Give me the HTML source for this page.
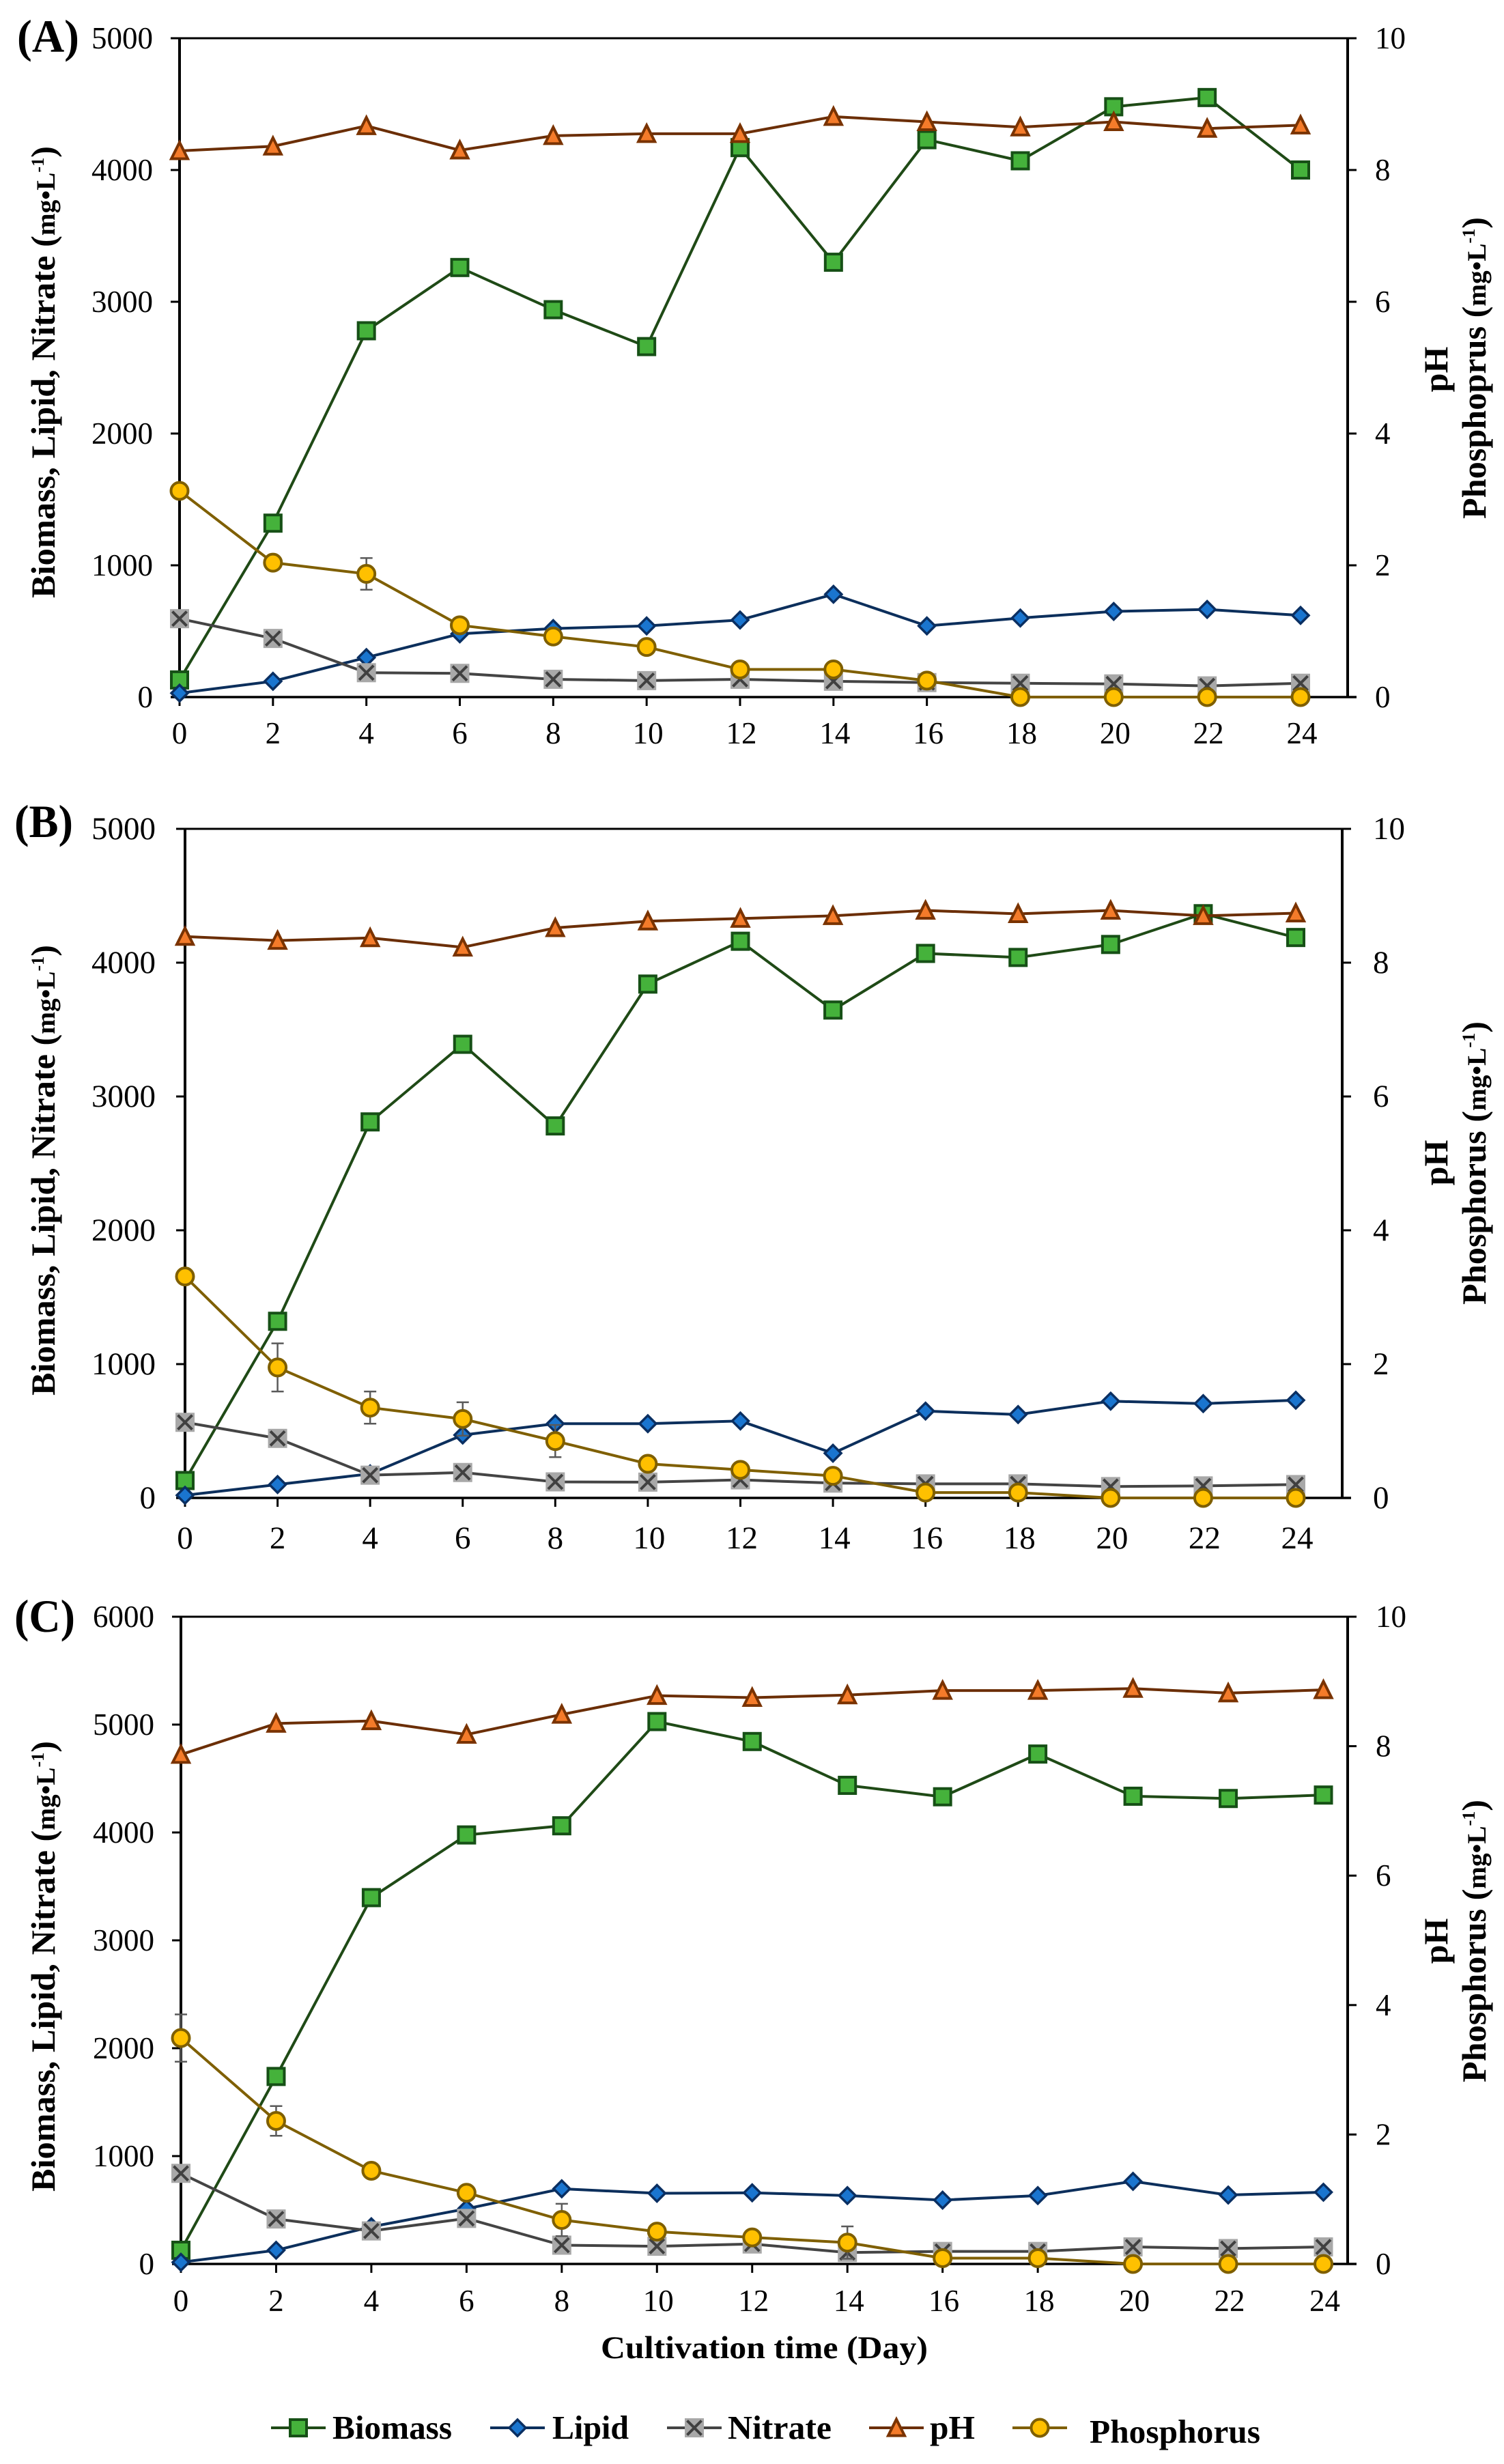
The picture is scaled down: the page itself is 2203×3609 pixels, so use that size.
<!DOCTYPE html>
<html lang="en">
<head>
<meta charset="utf-8">
<title>Cultivation time courses</title>
<style>
html,body{margin:0;padding:0;background:#fff;}
svg{display:block;}
text{font-family:"Liberation Serif",serif;fill:#000;}
.b{font-weight:bold;}
</style>
</head>
<body>
<svg id="figure" xmlns="http://www.w3.org/2000/svg" width="2203" height="3609" viewBox="0 0 2203 3609">
<rect width="2203" height="3609" fill="#fff"/>
<g id="panelA"></g>
<g id="panelB"></g>
<g id="panelC"></g>

<text class="b" x="25" y="76" font-size="68" textLength="91" lengthAdjust="spacingAndGlyphs">(A)</text>
<text class="b" x="21" y="1226" font-size="68" textLength="86" lengthAdjust="spacingAndGlyphs">(B)</text>
<text class="b" x="21" y="2390" font-size="68" textLength="89" lengthAdjust="spacingAndGlyphs">(C)</text>

<text class="b" transform="translate(80 876) rotate(-90)" font-size="50" textLength="662" lengthAdjust="spacingAndGlyphs">Biomass, Lipid, Nitrate (<tspan font-size="39">mg•L</tspan><tspan font-size="26" dy="-16">-1</tspan><tspan dy="16">)</tspan></text>
<text class="b" transform="translate(80 2044) rotate(-90)" font-size="50" textLength="660" lengthAdjust="spacingAndGlyphs">Biomass, Lipid, Nitrate (<tspan font-size="39">mg•L</tspan><tspan font-size="26" dy="-16">-1</tspan><tspan dy="16">)</tspan></text>
<text class="b" transform="translate(80 3210) rotate(-90)" font-size="50" textLength="660" lengthAdjust="spacingAndGlyphs">Biomass, Lipid, Nitrate (<tspan font-size="39">mg•L</tspan><tspan font-size="26" dy="-16">-1</tspan><tspan dy="16">)</tspan></text>

<text class="b" transform="translate(2120 541) rotate(-90)" font-size="50" text-anchor="middle">pH</text>
<text class="b" transform="translate(2120 1703) rotate(-90)" font-size="50" text-anchor="middle">pH</text>
<text class="b" transform="translate(2120 2843) rotate(-90)" font-size="50" text-anchor="middle">pH</text>

<text class="b" transform="translate(2176 760) rotate(-90)" font-size="50" textLength="442" lengthAdjust="spacingAndGlyphs">Phosphoprus (<tspan font-size="39">mg•L</tspan><tspan font-size="26" dy="-16">-1</tspan><tspan dy="16">)</tspan></text>
<text class="b" transform="translate(2176 1911) rotate(-90)" font-size="50" textLength="415" lengthAdjust="spacingAndGlyphs">Phosphorus (<tspan font-size="39">mg•L</tspan><tspan font-size="26" dy="-16">-1</tspan><tspan dy="16">)</tspan></text>
<text class="b" transform="translate(2176 3050) rotate(-90)" font-size="50" textLength="414" lengthAdjust="spacingAndGlyphs">Phosphorus (<tspan font-size="39">mg•L</tspan><tspan font-size="26" dy="-16">-1</tspan><tspan dy="16">)</tspan></text>

<text class="b" x="880" y="3454" font-size="47" textLength="479" lengthAdjust="spacingAndGlyphs">Cultivation time (Day)</text>

<g id="legend"></g>
<text class="b" x="487" y="3572" font-size="49" textLength="175" lengthAdjust="spacingAndGlyphs">Biomass</text>
<text class="b" x="809" y="3572" font-size="49" textLength="112" lengthAdjust="spacingAndGlyphs">Lipid</text>
<text class="b" x="1066" y="3572" font-size="49" textLength="152" lengthAdjust="spacingAndGlyphs">Nitrate</text>
<text class="b" x="1362" y="3572" font-size="49" textLength="66" lengthAdjust="spacingAndGlyphs">pH</text>
<text class="b" x="1596" y="3578" font-size="49" textLength="250" lengthAdjust="spacingAndGlyphs">Phosphorus</text>
</svg>

<script>
// Shared categories and tick labels
var days = [0, 2, 4, 6, 8, 10, 12, 14, 16, 18, 20, 22, 24];
var xTickLabels = ['0', '2', '4', '6', '8', '10', '12', '14', '16', '18', '20', '22', '24'];
var leftTicksAB = [0, 1000, 2000, 3000, 4000, 5000];
var leftTicksC = [0, 1000, 2000, 3000, 4000, 5000, 6000];
var rightTicks = [0, 2, 4, 6, 8, 10];

// Panel A
var aBiomass = [130, 1320, 2780, 3260, 2940, 2660, 4170, 3300, 4230, 4070, 4480, 4550, 4000];
var aLipid = [30, 120, 300, 480, 520, 540, 585, 780, 540, 600, 650, 665, 620];
var aNitrate = [595, 445, 185, 180, 135, 125, 135, 120, 110, 105, 100, 85, 105];
var aPH = [8.29, 8.36, 8.67, 8.30, 8.52, 8.55, 8.55, 8.81, 8.73, 8.65, 8.73, 8.63, 8.68];
var aPhosphorus = [3.13, 2.04, 1.87, 1.09, 0.92, 0.76, 0.42, 0.42, 0.25, 0, 0, 0, 0];
var aPhosphorusErr = [0, 0, 0.24, 0, 0, 0, 0, 0, 0, 0, 0, 0, 0];

// Panel B
var bBiomass = [130, 1320, 2810, 3390, 2780, 3840, 4160, 3646, 4069, 4039, 4136, 4366, 4188];
var bLipid = [20, 100, 180, 470, 555, 555, 575, 334, 649, 623, 723, 705, 730];
var bNitrate = [565, 445, 170, 190, 120, 118, 135, 111, 105, 105, 85, 90, 100];
var bPH = [8.39, 8.33, 8.37, 8.23, 8.52, 8.62, 8.66, 8.70, 8.78, 8.73, 8.78, 8.70, 8.74];
var bPhosphorus = [3.31, 1.95, 1.35, 1.18, 0.85, 0.51, 0.42, 0.33, 0.08, 0.08, 0, 0, 0];
var bPhosphorusErr = [0, 0.36, 0.24, 0.25, 0.24, 0, 0, 0, 0, 0, 0, 0, 0];

// Panel C
var cBiomass = [127, 1738, 3396, 3977, 4062, 5028, 4843, 4437, 4331, 4727, 4336, 4315, 4347];
var cLipid = [16, 127, 345, 512, 697, 655, 660, 634, 592, 634, 766, 639, 665];
var cNitrate = [840, 417, 306, 422, 174, 164, 185, 106, 116, 116, 158, 143, 158];
var cPH = [7.87, 8.35, 8.39, 8.18, 8.49, 8.78, 8.75, 8.79, 8.86, 8.86, 8.89, 8.82, 8.87];
var cPhosphorus = [3.49, 2.21, 1.44, 1.10, 0.68, 0.50, 0.41, 0.33, 0.09, 0.09, 0, 0, 0];
var cPhosphorusErr = [0.365, 0.23, 0.05, 0, 0.25, 0, 0, 0.25, 0, 0, 0, 0, 0];

var NS = 'http://www.w3.org/2000/svg';
var COL = {
  biomass: {line: '#1f4a16', fill: '#45b23b', stroke: '#165016'},
  lipid: {line: '#0c2f5c', fill: '#1a75cf', stroke: '#0a2f62'},
  nitrate: {line: '#444444', fill: '#a8a8a8', stroke: '#404040'},
  ph: {line: '#6b2e05', fill: '#f47b2a', stroke: '#7a3300'},
  phosphorus: {line: '#7f5f00', fill: '#ffc000', stroke: '#7f5f00'}
};

function mk(tag, parent, attrs) {
  var el = document.createElementNS(NS, tag);
  for (var k in attrs) { el.setAttribute(k, attrs[k]); }
  parent.appendChild(el);
  return el;
}

function drawLine(parent, x1, y1, x2, y2, color, width, name) {
  var el = mk('line', parent, {x1: x1, y1: y1, x2: x2, y2: y2, stroke: color, 'stroke-width': width});
  
  
  return el;
}

function drawMarker(parent, kind, x, y, name) {
  var c = COL[kind];
  var g = mk('g', parent, {transform: 'translate(' + x + ' ' + y + ')'});
  
  
  if (kind === 'biomass') {
    mk('rect', g, {x: -12, y: -12, width: 24, height: 24, fill: c.fill, stroke: c.stroke, 'stroke-width': 4});
  } else if (kind === 'lipid') {
    mk('polygon', g, {points: '0,-12 12,0 0,12 -12,0', fill: c.fill, stroke: c.stroke, 'stroke-width': 3.5});
  } else if (kind === 'nitrate') {
    mk('rect', g, {x: -14, y: -14, width: 28, height: 28, fill: c.fill});
    mk('path', g, {d: 'M-10.5,-10.5L10.5,10.5M-10.5,10.5L10.5,-10.5', fill: 'none', stroke: c.stroke, 'stroke-width': 4});
  } else if (kind === 'ph') {
    mk('polygon', g, {points: '0,-12.5 12,11.5 -12,11.5', fill: c.fill, stroke: c.stroke, 'stroke-width': 4});
  } else {
    mk('circle', g, {cx: 0, cy: 0, r: 12.5, fill: c.fill, stroke: c.stroke, 'stroke-width': 4});
  }
  return g;
}

function drawSeries(parent, kind, xs, values, xFn, yFn, panelName) {
  var g = mk('g', parent, {});
  
  
  var pts = [];
  for (var i = 0; i < values.length; i++) {
    pts.push(xFn(xs[i]) + ',' + yFn(values[i]));
  }
  var line = mk('polyline', g, {points: pts.join(' '), fill: 'none', stroke: COL[kind].line, 'stroke-width': 4, 'stroke-linejoin': 'round'});
  
  
  return g;
}

function drawMarkers(g, kind, xs, values, xFn, yFn, panelName) {
  for (var i = 0; i < values.length; i++) {
    drawMarker(g, kind, xFn(xs[i]), yFn(values[i]), panelName + '-point-' + kind + '-day-' + xs[i]);
  }
}

function drawPanel(p) {
  var root = document.getElementById(p.id);
  var xFn = function (d) { return p.left + (p.x24 - p.left) * d / 24; };
  var yL = function (v) { return p.bottom - (p.bottom - p.top) * v / p.leftMax; };
  var yR = function (v) { return p.bottom - (p.bottom - p.top) * v / 10; };
  var T = 13;
  var i, el;

  // frame
  drawLine(root, p.left - T, p.top, p.right + T, p.top, '#000', 3, p.name + '-top-axis');
  drawLine(root, p.left - T, p.bottom, p.right + T, p.bottom, '#000', 3.5, p.name + '-x-axis');
  drawLine(root, p.left, p.top, p.left, p.bottom, '#000', 4, p.name + '-left-axis');
  drawLine(root, p.right, p.top, p.right, p.bottom, '#000', 4, p.name + '-right-axis');

  // left ticks
  for (i = 0; i < p.leftTicks.length; i++) {
    var lv = p.leftTicks[i];
    if (lv !== 0 && lv !== p.leftMax) {
      drawLine(root, p.left - T, yL(lv), p.left, yL(lv), '#000', 3, p.name + '-left-tick-' + lv);
    }
    el = mk('text', root, {x: p.leftLabelX, y: yL(lv) + 15, 'font-size': p.fs, 'text-anchor': 'end'});
    el.textContent = String(lv);
    
    
  }
  // right ticks
  for (i = 0; i < rightTicks.length; i++) {
    var rv = rightTicks[i];
    if (rv !== 0 && rv !== 10) {
      drawLine(root, p.right, yR(rv), p.right + T, yR(rv), '#000', 3, p.name + '-right-tick-' + rv);
    }
    el = mk('text', root, {x: p.rightLabelX, y: yR(rv) + 15, 'font-size': p.fs});
    el.textContent = String(rv);
    
    
  }
  // x ticks
  for (i = 0; i < days.length; i++) {
    var xp = xFn(days[i]);
    drawLine(root, xp, p.bottom, xp, p.bottom + T, '#000', 3, p.name + '-x-tick-' + days[i]);
    el = mk('text', root, {x: xp + (i > 4 ? 2 : 0), y: p.xLabelY, 'font-size': p.fs, 'text-anchor': 'middle'});
    el.textContent = xTickLabels[i];
    
    
  }

  // biomass, lipid, nitrate on left axis; pH and phosphorus on right axis
  var g1 = drawSeries(root, 'biomass', days, p.biomass, xFn, yL, p.name);
  drawMarkers(g1, 'biomass', days, p.biomass, xFn, yL, p.name);
  var g2 = drawSeries(root, 'lipid', days, p.lipid, xFn, yL, p.name);
  drawMarkers(g2, 'lipid', days, p.lipid, xFn, yL, p.name);
  var g3 = drawSeries(root, 'nitrate', days, p.nitrate, xFn, yL, p.name);
  drawMarkers(g3, 'nitrate', days, p.nitrate, xFn, yL, p.name);
  var g4 = drawSeries(root, 'ph', days, p.ph, xFn, yR, p.name);
  drawMarkers(g4, 'ph', days, p.ph, xFn, yR, p.name);

  // phosphorus with error bars
  var g5 = drawSeries(root, 'phosphorus', days, p.phosphorus, xFn, yR, p.name);
  for (i = 0; i < days.length; i++) {
    if (p.err[i] > 0) {
      var ex = xFn(days[i]);
      var up = yR(p.phosphorus[i] + p.err[i]);
      var dn = yR(p.phosphorus[i] - p.err[i]);
      var eb = mk('path', g5, {
        d: 'M' + ex + ',' + up + 'V' + dn + 'M' + (ex - 9) + ',' + up + 'H' + (ex + 9) + 'M' + (ex - 9) + ',' + dn + 'H' + (ex + 9),
        fill: 'none', stroke: '#5a5a5a', 'stroke-width': 2.5
      });
      
      
    }
  }
  drawMarkers(g5, 'phosphorus', days, p.phosphorus, xFn, yR, p.name);
}

drawPanel({id: 'panelA', name: 'panel-a', left: 263, right: 1974, x24: 1905, top: 56, bottom: 1021, leftMax: 5000, leftTicks: leftTicksAB, leftLabelX: 224, rightLabelX: 2014, xLabelY: 1089, fs: 45,
  biomass: aBiomass, lipid: aLipid, nitrate: aNitrate, ph: aPH, phosphorus: aPhosphorus, err: aPhosphorusErr});
drawPanel({id: 'panelB', name: 'panel-b', left: 271, right: 1966, x24: 1898, top: 1214, bottom: 2194, leftMax: 5000, leftTicks: leftTicksAB, leftLabelX: 228, rightLabelX: 2011, xLabelY: 2268, fs: 47,
  biomass: bBiomass, lipid: bLipid, nitrate: bNitrate, ph: bPH, phosphorus: bPhosphorus, err: bPhosphorusErr});
drawPanel({id: 'panelC', name: 'panel-c', left: 265, right: 1974, x24: 1938.5, top: 2368, bottom: 3316, leftMax: 6000, leftTicks: leftTicksC, leftLabelX: 226, rightLabelX: 2015, xLabelY: 3385, fs: 45,
  biomass: cBiomass, lipid: cLipid, nitrate: cNitrate, ph: cPH, phosphorus: cPhosphorus, err: cPhosphorusErr});

// Legend keys
var legendKinds = ['biomass', 'lipid', 'nitrate', 'ph', 'phosphorus'];
var legendRoot = document.getElementById('legend');
var legendGeom = {biomass: 437, lipid: 758, nitrate: 1017, ph: 1313, phosphorus: 1523};
legendKinds.forEach(function (kind) {
  var cx = legendGeom[kind];
  drawLine(legendRoot, cx - 40, 3556, cx + 40, 3556, COL[kind].line, 4, 'legend-line-' + kind);
  drawMarker(legendRoot, kind, cx, 3556, 'legend-marker-' + kind);
});
</script>
</body>
</html>
